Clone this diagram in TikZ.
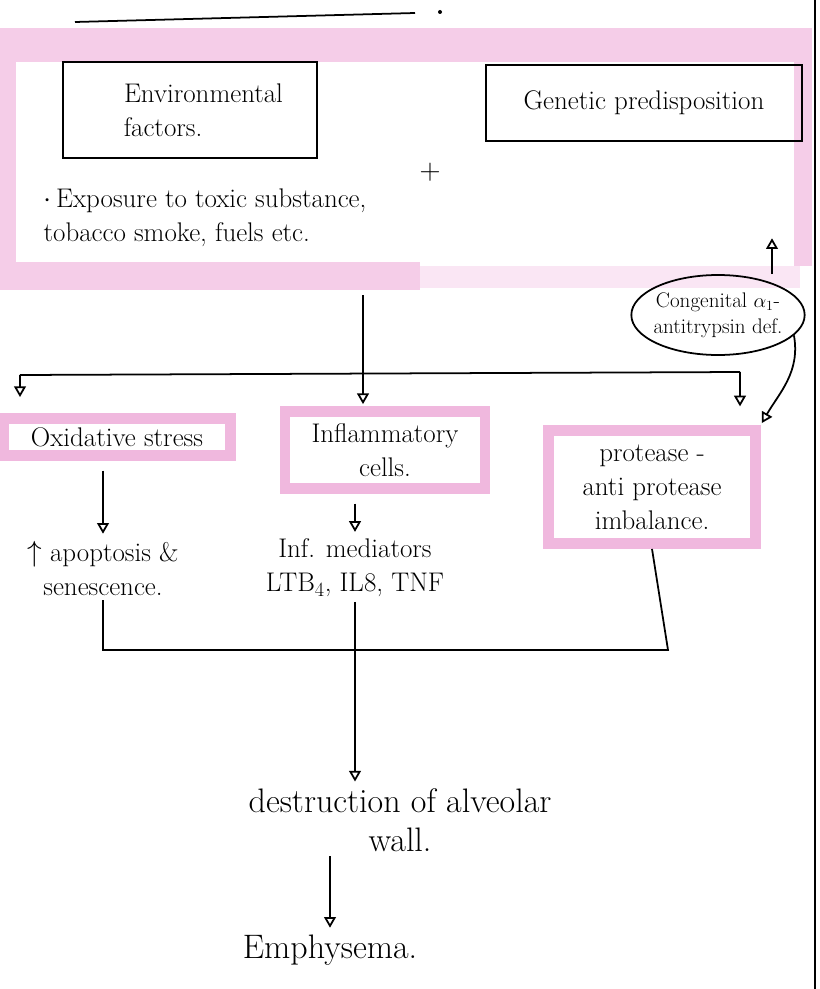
\documentclass[tikz,border=0pt]{standalone}
\usepackage{amsmath}
\usepackage{amssymb}
\usepackage{tikz}
\usetikzlibrary{arrows}
\usetikzlibrary{shapes.geometric}

\definecolor{hlpink}{RGB}{240,184,222}
\definecolor{bandpink}{RGB}{245,205,232}

\begin{document}
\begin{tikzpicture}[x=0.03cm, y=-0.03cm, line width=1.5pt,
    hand/.style={font=\fontsize{23}{29}\selectfont, align=center},
    big hand/.style={font=\fontsize{29}{33}\selectfont, align=center},
    small hand/.style={font=\fontsize{18}{22}\selectfont, align=center},
    ink box/.style={draw, hand, inner sep=4pt},
    pink box/.style={draw=hlpink, line width=9pt, hand, inner sep=6pt},
    flow/.style={-open triangle 60, shorten >=2pt}]
    \useasboundingbox (0,0) rectangle (819,989);
    \fill[bandpink] (0,28) rectangle (812,62);
    \fill[bandpink] (0,62) rectangle (16,290);
    \fill[bandpink] (16,262) rectangle (420,290);
    \fill[bandpink!50] (420,266) rectangle (800,288);
    \fill[bandpink] (794,62) rectangle (812,266);
    \draw (75,22) -- (415,13);
    \fill (440,12) circle (2);
    \draw (815,0) -- (815,989);
    \node[ink box, minimum width=7.6cm, minimum height=2.9cm] (env) at (190,110)
      {\quad Environmental\\factors.\qquad\quad};
    \node[ink box, minimum width=9.5cm, minimum height=2.3cm] (gen) at (644,103)
      {Genetic predisposition};
    \node[hand] (plus) at (430,172) {$+$};
    \node[hand, align=left] (expo) at (205,218)
      {$\cdot$\,Exposure to toxic substance,\\tobacco smoke, fuels etc.};
    \node[draw, ellipse, small hand, inner sep=-6pt,
      minimum width=5.2cm, minimum height=2.4cm] (cong) at (718,315)
      {Congenital $\alpha_1$-\\antitrypsin def.};
    \node[pink box, minimum width=6.8cm, minimum height=1.1cm] (ox) at (117,437)
      {Oxidative stress};
    \node[pink box, minimum width=6cm, minimum height=2.3cm] (infl) at (385,450)
      {Inflammatory\\cells.};
    \node[pink box, minimum width=6.2cm, minimum height=3.4cm] (prot) at (652,487)
      {protease -\\anti protease\\imbalance.};
    \node[hand] (apop) at (103,568) {$\uparrow$ apoptosis \&\\senescence.};
    \node[hand] (med) at (355,568) {Inf. mediators\\LTB$_4$, IL8, TNF};
    \node[big hand] (dest) at (400,820) {destruction of alveolar\\wall.};
    \node[big hand] (emph) at (330,950) {Emphysema.};
    \coordinate (stem) at (363,295);
    \coordinate (sl) at (20,375);
    \coordinate (sr) at (740,372);
    \coordinate (jr) at (668,650);
    \coordinate (gp) at (772,236);
    \draw (sl) -- (sr);
    \draw[flow] (stem) -- (stem |- infl.north);
    \draw[flow] (sl) -- ([yshift=12pt]sl |- ox.north);
    \draw[flow] (sr) -- ([yshift=14pt]sr |- prot.north);
    \draw[flow] (cong.-15) to[out=-80, in=60] (prot.north east);
    \draw[flow] (gp |- cong.north) -- (gp);
    \draw[flow] (ox.south -| apop) ++(0,10) -- (apop.north);
    \draw[flow] (infl.south -| med) ++(0,10) -- (med.north);
    \draw (apop.south) |- (jr) -- (prot.south);
    \draw[flow] (med.south) -- (med.south |- dest.north);
    \draw[flow] (dest.south -| emph) -- (emph.north);
\end{tikzpicture}
\end{document}
